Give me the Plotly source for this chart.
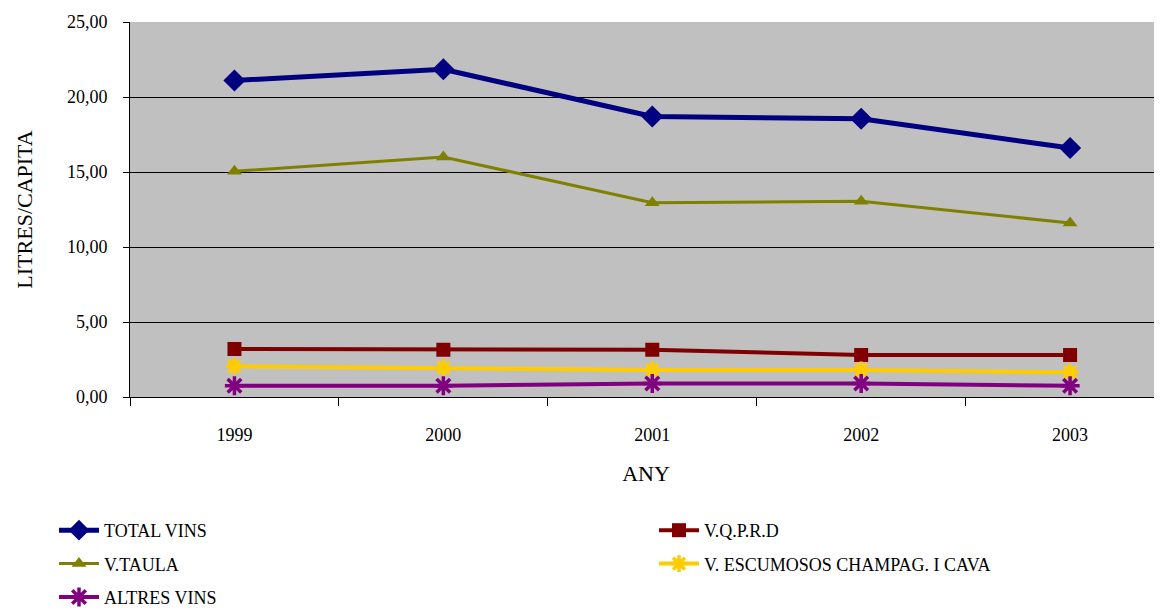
import plotly.graph_objects as go

years = ["1999", "2000", "2001", "2002", "2003"]
total_vins = [21.1, 21.85, 18.7, 18.55, 16.6]
vqprd = [3.2, 3.15, 3.15, 2.8, 2.8]
v_taula = [15.05, 16.0, 12.95, 13.05, 11.6]
escumosos = [2.05, 1.95, 1.8, 1.8, 1.65]
altres = [0.75, 0.75, 0.9, 0.9, 0.75]

names = ["TOTAL VINS", "V.Q.P.R.D", "V.TAULA", "V. ESCUMOSOS CHAMPAG. I CAVA", "ALTRES VINS"]
series = [total_vins, vqprd, v_taula, escumosos, altres]
colors = ["#000080", "#800000", "#808000", "#FFCC00", "#800080"]
symbols = ["diamond", "square", "triangle-up", "asterisk-open", "asterisk-open"]
sizes = [17, 14, 13, 14, 16]
widths = [5, 4, 3, 4, 4]
legend_ids = ["legend", "legend2", "legend", "legend2", "legend"]

fig = go.Figure()
for n, s, c, sym, sz, w, lg in zip(names, series, colors, symbols, sizes, widths, legend_ids):
    marker = dict(symbol=sym, size=sz, color=c)
    if sym.startswith("asterisk"):
        marker["line"] = dict(color=c, width=3.5)
    fig.add_trace(go.Scatter(x=years, y=s, name=n, mode="lines+markers",
                             line=dict(color=c, width=w), marker=marker,
                             legend=lg, legendgroup=n))

# the page body has an 8px default margin, so the figure is sized to fit inside the window
W, H = 1154, 604
font = "Liberation Serif, Times New Roman, serif"
leg_common = dict(orientation="v", xref="paper", yref="container",
                  yanchor="top", xanchor="left", y=1 - 504 / H,
                  font=dict(family=font, size=18), tracegroupgap=7,
                  bgcolor="rgba(0,0,0,0)", itemwidth=40)
fig.update_layout(
    width=W, height=H,
    margin=dict(l=122, r=0, t=14, b=215),
    paper_bgcolor="white", plot_bgcolor="#C0C0C0",
    font=dict(family=font, size=18, color="black"),
    separators=",.",
    showlegend=True,
    legend=dict(x=(54 - 130) / 1032, **leg_common),
    legend2=dict(x=(654 - 130) / 1032, **leg_common),
    xaxis=dict(type="category", tickson="boundaries", ticks="outside", ticklen=8,
               tickcolor="black", showline=True, linecolor="black", linewidth=1,
               showgrid=False, range=[-0.5, 4.44],
               ticklabelstandoff=21,
               title=dict(text="ANY", standoff=22),
               tickfont=dict(size=18)),
    yaxis=dict(range=[0, 25], dtick=5, tickformat=".2f", ticks="outside", ticklen=6,
               tickcolor="black", showline=True, linecolor="black", linewidth=1,
               showgrid=True, gridcolor="black", gridwidth=1.2, zeroline=False,
               ticklabelstandoff=12,
               title=dict(text="LITRES/CAPITA", standoff=28),
               tickfont=dict(size=18)),
)
fig.write_html("out.html")
